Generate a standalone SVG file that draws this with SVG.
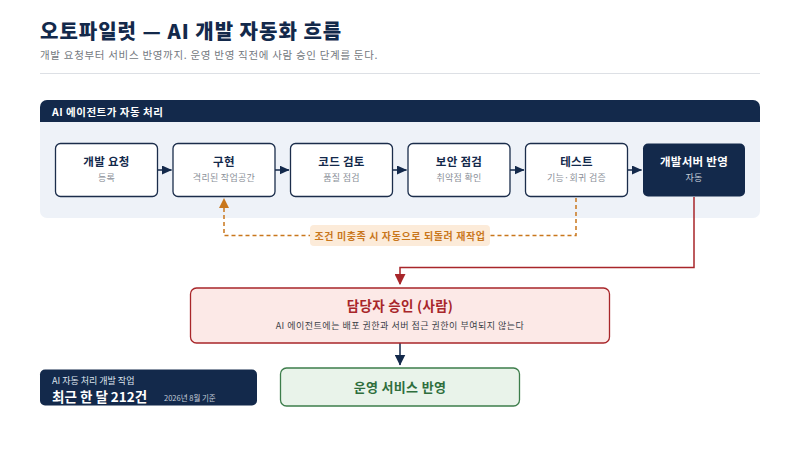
<svg xmlns="http://www.w3.org/2000/svg" width="800" height="450" viewBox="0 0 800 450">
<defs>
<style>
text{font-family:"Noto Sans CJK KR","Noto Sans",sans-serif}
.node rect{fill:#fff;stroke:#1b2d4b;stroke-width:1.3}
.nt{font-size:11.5px;font-weight:700;fill:#13294b;text-anchor:middle;letter-spacing:0.3px}
.ns{font-size:9px;fill:#8a8f98;text-anchor:middle;letter-spacing:0.3px}
.flow{stroke:#13294b;stroke-width:1.5;fill:none}
</style>
<marker id="an" viewBox="0 0 10 10" refX="9.5" refY="5" markerWidth="10" markerHeight="9" markerUnits="userSpaceOnUse" orient="auto" preserveAspectRatio="none"><path d="M0,0L10,5L0,10z" fill="#13294b"/></marker>
<marker id="av" viewBox="0 0 10 10" refX="9.5" refY="5" markerWidth="11" markerHeight="11" markerUnits="userSpaceOnUse" orient="auto"><path d="M0,0L10,5L0,10z" fill="#13294b"/></marker>
<marker id="ao" viewBox="0 0 10 10" refX="9" refY="5" markerWidth="10" markerHeight="10" markerUnits="userSpaceOnUse" orient="auto"><path d="M0,0L10,5L0,10z" fill="#c9771c"/></marker>
<marker id="ar" viewBox="0 0 10 10" refX="9" refY="5" markerWidth="11" markerHeight="11" markerUnits="userSpaceOnUse" orient="auto"><path d="M0,0L10,5L0,10z" fill="#a8262a"/></marker>
</defs>
<rect width="800" height="450" fill="#fff"/>
<text x="40" y="39" font-size="20" font-weight="900" fill="#13294b" letter-spacing="1">오토파일럿 — AI 개발 자동화 흐름</text>
<text x="40" y="59" font-size="10.5" fill="#737880" letter-spacing="0.7">개발 요청부터 서비스 반영까지. 운영 반영 직전에 사람 승인 단계를 둔다.</text>
<line x1="40" y1="73.5" x2="760" y2="73.5" stroke="#dde0e5" stroke-width="1"/>

<g id="panel">
<rect x="40" y="100" width="720" height="118" rx="7" fill="#eef2f8"/>
<path d="M40,122V107a7,7 0 0 1 7,-7H753a7,7 0 0 1 7,7V122z" fill="#13294b"/>
<text x="52" y="116" font-size="10.5" font-weight="700" fill="#fff" letter-spacing="0.5">AI 에이전트가 자동 처리</text>
</g>

<g id="connectors">
<line class="flow" x1="158" y1="170" x2="171.5" y2="170" marker-end="url(#an)"/>
<line class="flow" x1="275" y1="170" x2="289" y2="170" marker-end="url(#an)"/>
<line class="flow" x1="392.5" y1="170" x2="406.5" y2="170" marker-end="url(#an)"/>
<line class="flow" x1="510" y1="170" x2="524" y2="170" marker-end="url(#an)"/>
<line class="flow" x1="627.5" y1="170" x2="641.5" y2="170" marker-end="url(#an)"/>
<path d="M576,198V235.5H224V199" fill="none" stroke="#c9771c" stroke-width="1.5" stroke-dasharray="4,3" marker-end="url(#ao)"/>
<path d="M694,197V267.5H400V284" fill="none" stroke="#a8262a" stroke-width="1.5" marker-end="url(#ar)"/>
<line class="flow" x1="400" y1="343" x2="400" y2="365" marker-end="url(#av)"/>
</g>

<g id="loop-label">
<rect x="310" y="225" width="180" height="21" rx="4" fill="#fcebd9"/>
<text x="400" y="239.5" font-size="10" font-weight="700" fill="#c9771c" text-anchor="middle" letter-spacing="0.6">조건 미충족 시 자동으로 되돌려 재작업</text>
</g>

<g id="n1" class="node"><rect x="55.5" y="143.5" width="102" height="53" rx="5"/><text class="nt" x="106.5" y="166">개발 요청</text><text class="ns" x="106.5" y="181">등록</text></g>
<g id="n2" class="node"><rect x="173" y="143.5" width="102" height="53" rx="5"/><text class="nt" x="224" y="166">구현</text><text class="ns" x="224" y="181">격리된 작업공간</text></g>
<g id="n3" class="node"><rect x="290.5" y="143.5" width="102" height="53" rx="5"/><text class="nt" x="341.5" y="166">코드 검토</text><text class="ns" x="341.5" y="181">품질 점검</text></g>
<g id="n4" class="node"><rect x="408" y="143.5" width="102" height="53" rx="5"/><text class="nt" x="459" y="166">보안 점검</text><text class="ns" x="459" y="181">취약점 확인</text></g>
<g id="n5" class="node"><rect x="525.5" y="143.5" width="102" height="53" rx="5"/><text class="nt" x="576.5" y="166">테스트</text><text class="ns" x="576.5" y="181">기능·회귀 검증</text></g>
<g id="n6"><rect x="643" y="143.5" width="102" height="53" rx="5" fill="#13294b"/><text class="nt" x="694" y="166" style="fill:#fff">개발서버 반영</text><text class="ns" x="694" y="181" style="fill:#c5cdd9">자동</text></g>

<g id="approval">
<rect x="190.5" y="288" width="419" height="55" rx="6" fill="#fce9e7" stroke="#a8262a" stroke-width="1.3"/>
<text x="400" y="310.5" font-size="13.5" font-weight="700" fill="#a8262a" text-anchor="middle" letter-spacing="0.3">담당자 승인 (사람)</text>
<text x="400" y="328.5" font-size="9" fill="#3a3f47" text-anchor="middle" letter-spacing="0.5">AI 에이전트에는 배포 권한과 서버 접근 권한이 부여되지 않는다</text>
</g>

<g id="prod">
<rect x="280.5" y="368" width="239" height="38" rx="6" fill="#e9f3ea" stroke="#3d7d4b" stroke-width="1.3"/>
<text x="400" y="392" font-size="13" font-weight="700" fill="#2f6e3d" text-anchor="middle" letter-spacing="0.3">운영 서비스 반영</text>
</g>

<g id="stat">
<rect x="40" y="369.5" width="217" height="36" rx="5" fill="#13294b"/>
<text x="52" y="384" font-size="9" fill="#dfe5ee">AI 자동 처리 개발 작업</text>
<text x="52" y="402" font-size="13.5" font-weight="700" fill="#fff">최근 한 달 212건</text>
<text x="164" y="400.5" font-size="7.5" fill="#c5cdd9">2026년 8월 기준</text>
</g>
</svg>
